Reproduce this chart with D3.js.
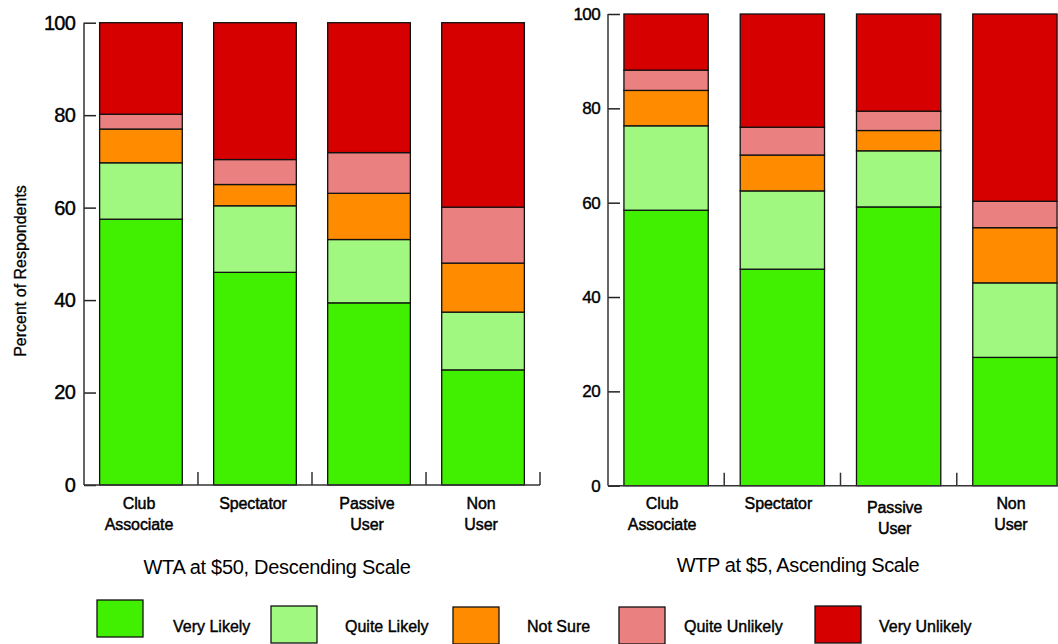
<!DOCTYPE html>
<html>
<head>
<meta charset="utf-8">
<script src="https://cdn.jsdelivr.net/npm/d3@7"></script>
<style>
  html, body { margin: 0; padding: 0; background: #fff; }
  svg { display: block; font-family: "Liberation Sans", Arial, sans-serif; }
</style>
</head>
<body>
<svg id="chart" width="1058" height="644"></svg>
<script>
// ---------- data ----------
const categories = ["Club Associate", "Spectator", "Passive User", "Non User"];
const categoryLines = [["Club", "Associate"], ["Spectator"], ["Passive", "User"], ["Non", "User"]];
const responses = ["Very Likely", "Quite Likely", "Not Sure", "Quite Unlikely", "Very Unlikely"];
const responseColors = ["#40f000", "#a0f880", "#ff8c00", "#eb8080", "#d70000"];
const yTickValues = [0, 20, 40, 60, 80, 100];

// WTA at $50, Descending Scale
const wtaVeryLikely    = [57.5, 46.0, 39.4, 24.9];
const wtaQuiteLikely   = [12.2, 14.4, 13.7, 12.5];
const wtaNotSure       = [7.3, 4.6, 10.0, 10.6];
const wtaQuiteUnlikely = [3.2, 5.4, 8.8, 12.1];
const wtaVeryUnlikely  = [19.8, 29.6, 28.1, 39.9];

// WTP at $5, Ascending Scale
const wtpVeryLikely    = [58.4, 45.9, 59.1, 27.2];
const wtpQuiteLikely   = [17.9, 16.6, 11.9, 15.8];
const wtpNotSure       = [7.5, 7.6, 4.3, 11.7];
const wtpQuiteUnlikely = [4.3, 5.9, 4.1, 5.6];
const wtpVeryUnlikely  = [11.9, 24.0, 20.6, 39.7];

const wtaTitle = "WTA at $50, Descending Scale";
const wtpTitle = "WTP at $5, Ascending Scale";
const yAxisTitle = "Percent of Respondents";

function buildRows(vl, ql, ns, qu, vu) {
  return categories.map((c, i) => ({
    category: c,
    "Very Likely": vl[i], "Quite Likely": ql[i], "Not Sure": ns[i],
    "Quite Unlikely": qu[i], "Very Unlikely": vu[i]
  }));
}
const wtaRows = buildRows(wtaVeryLikely, wtaQuiteLikely, wtaNotSure, wtaQuiteUnlikely, wtaVeryUnlikely);
const wtpRows = buildRows(wtpVeryLikely, wtpQuiteLikely, wtpNotSure, wtpQuiteUnlikely, wtpVeryUnlikely);

const svg = d3.select("#chart");
const color = d3.scaleOrdinal().domain(responses).range(responseColors);
const stack = d3.stack().keys(responses);

function heavy(sel, w) {
  return sel.attr("stroke", "#000").attr("stroke-width", w).attr("paint-order", "fill");
}

function drawPanel(cfg) {
  const g = svg.append("g");
  const x = d3.scaleBand().domain(categories)
    .range([cfg.x0, cfg.x1]).paddingInner(0.275).paddingOuter(0.137);
  const y = d3.scaleLinear().domain([0, 100]).range([cfg.yBottom, cfg.yTop]);

  // bars
  const series = stack(cfg.rows);
  g.selectAll("g.layer").data(series).join("g")
    .attr("class", "layer")
    .attr("fill", d => color(d.key))
    .selectAll("rect").data(d => d).join("rect")
    .attr("x", d => x(d.data.category))
    .attr("width", x.bandwidth())
    .attr("y", d => y(d[1]))
    .attr("height", d => y(d[0]) - y(d[1]))
    .attr("stroke", "#111")
    .attr("stroke-width", 1.3);

  // y axis (ticks pointing inward)
  const yAxis = d3.axisLeft(y).tickValues(yTickValues).tickSize(-12)
    .tickPadding(cfg.tickPad).tickFormat(d3.format("d"));
  const ya = g.append("g").attr("transform", `translate(${cfg.x0},0)`).call(yAxis);
  ya.select(".domain").remove();
  ya.selectAll(".tick line").attr("stroke", "#222").attr("stroke-width", 1.5);
  const tt = ya.selectAll(".tick text").attr("font-size", cfg.tickFont).attr("fill", "#000")
    .attr("font-family", "Liberation Sans, Arial, sans-serif")
    .attr("letter-spacing", cfg.tickSpacing);
  heavy(tt, 0.4);
  g.append("line").attr("x1", cfg.x0).attr("x2", cfg.x0)
    .attr("y1", y(0)).attr("y2", y(100)).attr("stroke", "#333").attr("stroke-width", 1.5);

  // x axis baseline with small upward ticks at band boundaries
  g.append("line").attr("x1", cfg.x0).attr("x2", cfg.x1)
    .attr("y1", y(0)).attr("y2", y(0)).attr("stroke", "#333").attr("stroke-width", 1.5);
  const boundaries = categories.map(c => x(c) - x.step() * x.paddingInner() / 2).slice(1)
    .concat([cfg.x1]);
  g.selectAll("line.xtick").data(boundaries).join("line").attr("class", "xtick")
    .attr("x1", d => d).attr("x2", d => d)
    .attr("y1", y(0)).attr("y2", y(0) - 13)
    .attr("stroke", "#333").attr("stroke-width", 1.5);

  // category labels
  categories.forEach((c, i) => {
    const cx = x(c) + x.bandwidth() / 2 + cfg.labelShift;
    const t = g.append("text").attr("text-anchor", "middle")
      .attr("font-size", 16).attr("letter-spacing", -0.1).attr("fill", "#000");
    heavy(t, 0.45);
    categoryLines[i].forEach((line, j) => {
      t.append("tspan").attr("x", cx)
        .attr("y", cfg.labelY + (c === "Passive User" ? cfg.passiveDy : 0) + j * 21)
        .text(line);
    });
  });

  // panel title
  g.append("text").attr("x", cfg.titleX).attr("y", cfg.titleY)
    .attr("text-anchor", "middle").attr("font-size", 20).attr("fill", "#000")
    .attr("letter-spacing", cfg.titleSpacing)
    .text(cfg.title);
  return g;
}

drawPanel({
  rows: wtaRows, x0: 84, x1: 540, yBottom: 485, yTop: 22.7,
  tickPad: 9, tickFont: 20, tickSpacing: -0.8,
  labelY: 509, labelShift: -2, passiveDy: 0,
  title: wtaTitle, titleX: 277, titleY: 574, titleSpacing: -0.3
});
drawPanel({
  rows: wtpRows, x0: 608, x1: 1073, yBottom: 485.7, yTop: 14,
  tickPad: 8, tickFont: 17, tickSpacing: -0.6,
  labelY: 509, labelShift: -4, passiveDy: 4,
  title: wtpTitle, titleX: 798, titleY: 572, titleSpacing: -0.4
});

// y axis title (left panel only)
heavy(svg.append("text")
  .attr("transform", "translate(26,271) rotate(-90)")
  .attr("text-anchor", "middle").attr("font-size", 16).attr("fill", "#000")
  .attr("letter-spacing", 0)
  .text(yAxisTitle), 0.3);

// legend
const legendBoxX = [97, 271, 453, 619, 815];
const legendBoxY = [600, 606, 607, 607, 606];
const legendTextX = [173, 345, 527, 684, 879];
const lg = svg.append("g");
lg.selectAll("rect").data(responses).join("rect")
  .attr("x", (d, i) => legendBoxX[i]).attr("y", (d, i) => legendBoxY[i])
  .attr("width", 46).attr("height", 37)
  .attr("fill", d => color(d)).attr("stroke", "#111").attr("stroke-width", 1.3);
heavy(lg.selectAll("text").data(responses).join("text")
  .attr("x", (d, i) => legendTextX[i]).attr("y", 632)
  .attr("font-size", 16).attr("letter-spacing", 0).attr("fill", "#000")
  .text(d => d), 0.4);
</script>
</body>
</html>
